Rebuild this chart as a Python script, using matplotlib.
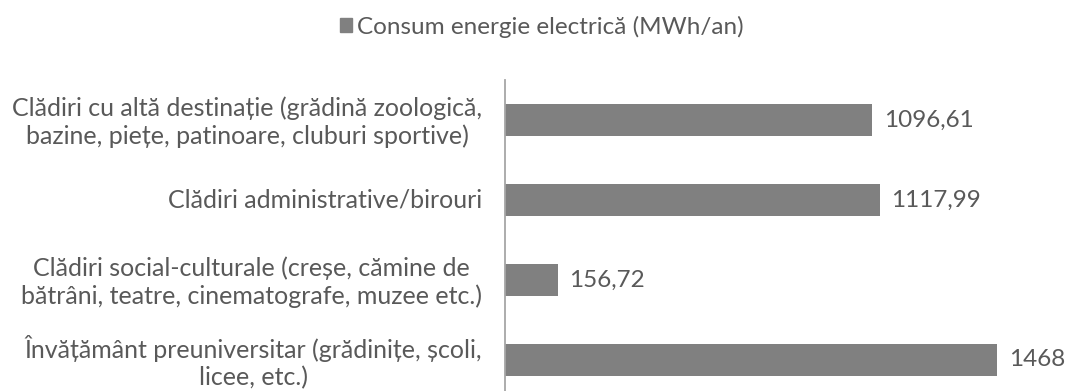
import matplotlib
matplotlib.use("Agg")
import matplotlib.pyplot as plt
import matplotlib.transforms as mtrans
from matplotlib.patches import Patch

categories = [
    "Clădiri cu altă destinație (grădină zoologică,\nbazine, piețe, patinoare, cluburi sportive)",
    "Clădiri administrative/birouri",
    "Clădiri social-culturale (creșe, cămine de\nbătrâni, teatre, cinematografe, muzee etc.)",
    "Învățământ preuniversitar (grădinițe, școli,\nlicee, etc.)",
]
values = [1096.61, 1117.99, 156.72, 1468]
value_labels = ["1096,61", "1117,99", "156,72", "1468"]
series_name = "Consum energie electrică (MWh/an)"

TEXT = "#595959"
BAR = "#808080"
AXIS = "#A6A6A6"
FONT = "Lato"
FS = 18

W, H = 1066, 391
fig = plt.figure(figsize=(W / 100, H / 100), dpi=100)
left_px, right_px, top_px, bottom_px = 505, 1050, 80, 400
ax = fig.add_axes([left_px / W, 1 - bottom_px / H,
                   (right_px - left_px) / W, (bottom_px - top_px) / H])

pos = list(range(len(categories)))
ax.barh(pos, values, height=0.39, color=BAR)
ax.set_ylim(len(categories) - 0.5, -0.5)
ax.set_xlim(0, (right_px - left_px) / 0.3351)

for p, v, lab in zip(pos, values, value_labels):
    ax.annotate(lab, (v, p), xytext=(8.5, 0), textcoords="offset points",
                va="center", ha="left", fontsize=17.5, color=TEXT, family=FONT,
                annotation_clip=False)

ax.set_yticks(pos)
ax.set_yticklabels(categories, fontsize=FS, color=TEXT, family=FONT,
                   ha="center", linespacing=1.2)
ax.tick_params(axis="y", length=0, pad=0)

# centre each category label in the space left of the axis
fig.canvas.draw()
renderer = fig.canvas.get_renderer()
for t in ax.get_yticklabels():
    half = t.get_window_extent(renderer).width / 2
    t.set_transform(t.get_transform() +
                    mtrans.ScaledTranslation(-(half + 23) / 100, 2 / 100, fig.dpi_scale_trans))

ax.set_xticks([])
for s in ["top", "right", "bottom"]:
    ax.spines[s].set_visible(False)
ax.spines["left"].set_color(AXIS)
ax.spines["left"].set_linewidth(1.3)

fig.legend(handles=[Patch(color=BAR, label=series_name)], loc="center",
           bbox_to_anchor=(542 / W, 1 - 27 / H), frameon=False,
           handlelength=0.5, handleheight=0.5, handletextpad=0.2,
           prop={"family": FONT, "size": 17.5}, labelcolor=TEXT)

fig.savefig("out.png", dpi=100)
